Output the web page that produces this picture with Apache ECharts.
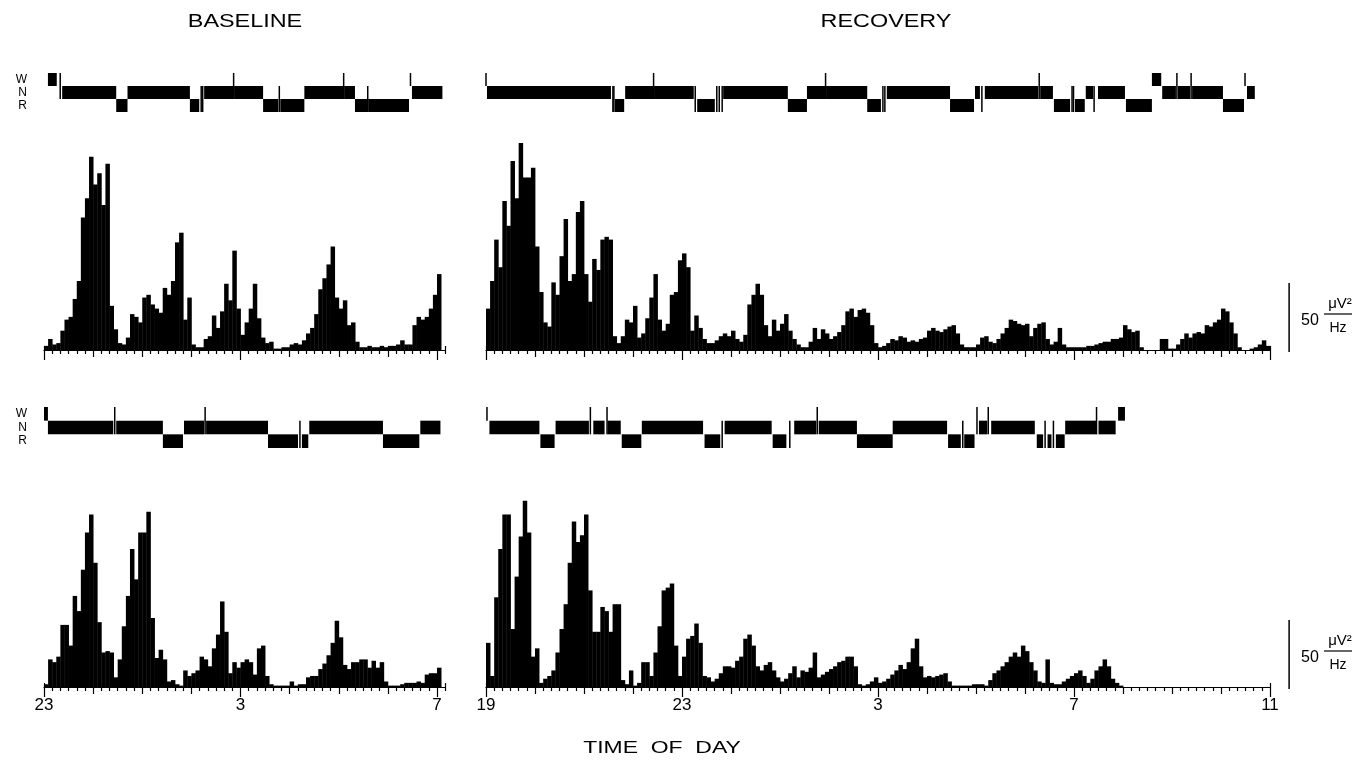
<!DOCTYPE html>
<html><head><meta charset="utf-8">
<script src="https://cdn.jsdelivr.net/npm/echarts@6/dist/echarts.min.js"></script>
<style>html,body{margin:0;padding:0;background:#fff}#c{width:1363px;height:765px}</style>
</head><body><div id="c"></div>
<script>
// ---------- DATA ----------
const BIN_HOURS = 5 / 60; // slow-wave activity binned in 5-minute steps
const stageNames = ['R', 'N', 'W'];
const baselineTickLabels = ['23', '3', '7'];
const recoveryTickLabels = ['19', '23', '3', '7', '11'];
const SCALE_BAR = 50;

const baselineTopSWA = [3,8,4,5,14,22,24,37,50,96,
 110,140,120,128,105,135,32,15,5,4,
 9,26,24,20,38,40,33,30,27,45,
 40,50,78,85,22,38,4,2,2,8,
 10,25,16,28,48,36,72,30,11,20,
 30,48,23,9,5,6,1,1,2,2,
 4,5,4,7,12,16,26,44,52,62,
 75,38,30,36,18,20,6,2,2,3,
 2,2,3,2,3,3,4,7,4,4,
 18,24,22,24,30,40,55];

const recoveryTopSWA = [30,50,80,60,108,90,137,110,150,125,
 125,132,75,42,20,17,49,40,68,95,
 50,55,100,108,55,35,66,58,80,82,
 80,10,5,10,22,20,32,9,12,23,
 38,55,22,14,19,40,42,65,70,60,
 14,25,16,8,5,5,7,10,12,10,
 14,8,6,11,33,40,48,40,18,10,
 22,14,19,26,14,8,4,2,2,6,
 16,8,15,12,8,10,13,18,28,30,
 24,29,30,27,18,5,2,3,5,8,
 7,10,9,6,7,6,8,9,14,16,
 14,13,15,17,18,12,4,2,2,2,
 4,9,10,6,5,8,12,16,22,21,
 19,18,19,10,16,19,20,8,4,6,
 16,4,2,2,2,2,2,3,3,4,
 5,6,6,8,8,9,18,15,13,14,
 2,0,0,0,0,8,8,1,1,4,
 8,12,9,12,13,12,18,17,20,22,
 30,28,20,12,2,0,0,1,2,4,
 7,3];

const baselineBottomSWA = [2,20,18,22,45,45,30,66,55,85,
 112,125,90,47,25,26,25,7,20,44,
 66,100,78,112,112,127,50,21,27,20,
 4,5,2,1,12,8,10,12,22,20,
 15,28,38,62,40,10,18,14,18,20,
 18,9,28,30,8,2,1,1,1,1,
 4,1,2,2,7,8,8,13,17,23,
 32,48,36,16,13,18,18,20,20,14,
 19,14,18,4,1,1,1,2,3,3,
 3,4,3,9,10,10,14];

const recoveryBottomSWA = [32,8,65,100,125,125,42,80,109,135,
 112,22,28,3,6,8,12,25,42,60,
 90,120,105,110,125,70,40,40,58,55,
 40,60,60,5,2,12,1,3,18,18,
 8,25,44,70,72,75,30,8,22,35,
 37,46,32,8,7,4,6,10,15,15,
 14,19,22,35,38,30,15,12,16,18,
 12,7,4,6,10,15,7,12,11,14,
 25,7,9,11,13,15,18,19,22,22,
 15,2,1,2,4,7,3,4,6,9,
 12,16,13,18,28,35,15,7,8,7,
 8,9,10,4,1,1,1,1,1,2,
 2,2,1,5,10,12,15,18,22,25,
 22,30,26,18,12,4,3,20,3,2,
 2,4,6,8,10,12,8,3,
 6,12,15,20,15,6,3,1];

// hypnogram episodes: [start h, end h, stage]
const baselineTopHypno = [[0.08,0.26,'W'],[0.37,1.47,'N'],[1.47,1.70,'R'],[1.70,2.97,'N'],[2.97,3.16,'R'],
 [3.26,3.85,'N'],[3.87,4.46,'N'],[4.46,4.77,'R'],[4.81,5.30,'R'],[5.30,6.09,'N'],[6.11,6.33,'N'],
 [6.33,6.58,'R'],[6.60,7.43,'R'],[7.49,8.11,'N']];
// brief transitions: [time h, upper stage, lower stage]
const baselineTopMarks = [[0.33,'W','N'],[3.20,'N','R'],[3.23,'N','R'],[3.86,'W','N'],[4.79,'N','R'],
 [6.10,'W','N'],[6.59,'N','R'],[7.46,'W','W']];

const recoveryTopHypno = [[0.02,2.55,'N'],[2.63,2.82,'R'],[2.84,3.41,'N'],[3.43,4.24,'N'],[4.31,4.67,'R'],
 [4.84,6.16,'N'],[6.16,6.55,'R'],[6.55,6.92,'N'],[6.94,7.78,'N'],[7.78,8.06,'R'],[8.18,9.47,'N'],
 [9.47,9.96,'R'],[9.98,10.08,'N'],[10.18,11.27,'N'],[11.31,11.57,'N'],[11.59,11.92,'R'],[12.02,12.22,'R'],
 [12.24,12.39,'N'],[12.49,13.04,'N'],[13.06,13.59,'R'],[13.59,13.78,'W'],[13.80,14.08,'N'],[14.12,14.37,'N'],
 [14.41,15.04,'N'],[15.04,15.47,'R'],[15.53,15.69,'N']];
const recoveryTopMarks = [[0.0,'W','W'],[2.59,'N','R'],[2.61,'N','R'],[3.42,'W','N'],[4.27,'N','R'],
 [4.71,'N','R'],[4.76,'N','R'],[4.82,'N','R'],[6.93,'W','N'],[8.10,'N','R'],[8.14,'N','R'],[10.12,'N','R'],
 [11.29,'W','N'],[11.96,'N','R'],[11.99,'N','R'],[12.41,'N','R'],[14.10,'W','N'],[14.39,'W','N'],[15.49,'W','W']];

const baselineBottomHypno = [[0.0,0.08,'W'],[0.08,1.41,'N'],[1.47,2.42,'N'],[2.42,2.83,'R'],[2.85,3.26,'N'],
 [3.30,4.56,'N'],[4.56,5.17,'R'],[5.25,5.38,'R'],[5.40,6.90,'N'],[6.90,7.64,'R'],[7.66,8.07,'N']];
const baselineBottomMarks = [[1.44,'W','N'],[3.28,'W','N'],[5.21,'N','R']];

const recoveryBottomHypno = [[0.07,1.09,'N'],[1.11,1.40,'R'],[1.42,2.10,'N'],[2.19,2.42,'N'],[2.48,2.75,'N'],
 [2.77,3.17,'R'],[3.18,4.43,'N'],[4.46,4.78,'R'],[4.87,5.83,'N'],[5.85,6.13,'R'],[6.29,6.74,'N'],[6.79,7.57,'N'],
 [7.57,8.30,'R'],[8.30,9.41,'N'],[9.43,9.69,'R'],[9.76,9.97,'R'],[10.06,10.23,'N'],[10.31,11.20,'N'],
 [11.24,11.37,'R'],[11.46,11.54,'R'],[11.63,11.81,'R'],[11.82,12.46,'N'],[12.50,12.85,'N'],[12.90,13.04,'W']];
const recoveryBottomMarks = [[0.02,'W','W'],[2.13,'W','N'],[2.47,'W','N'],[4.82,'N','R'],[6.20,'N','R'],
 [6.76,'W','N'],[9.73,'N','R'],[10.02,'W','N'],[10.25,'W','N'],[11.41,'N','R'],[11.58,'N','R'],[12.46,'W','N']];

// ---------- LAYOUT ----------
const FONT = 'Liberation Sans, DejaVu Sans, sans-serif';
const UNIT_PX = 1.38; // px per uV^2/Hz
const cols = {
  base: { left: 44, max: 49 / 6, pph: 49.125, labels: baselineTickLabels },
  rec:  { left: 486, max: 16, pph: 49.0, labels: recoveryTickLabels }
};
const rows = [
  { hypTop: 73, hypH: 39, axisY: 350, yMax: 170 },
  { hypTop: 407, hypH: 41, axisY: 687, yMax: 150 }
];
const panels = [
  { col: 'base', row: 0, swa: baselineTopSWA, hyp: baselineTopHypno, marks: baselineTopMarks, stageLabels: true, tickLabels: false },
  { col: 'rec', row: 0, swa: recoveryTopSWA, hyp: recoveryTopHypno, marks: recoveryTopMarks, stageLabels: false, tickLabels: false, scaleBar: true },
  { col: 'base', row: 1, swa: baselineBottomSWA, hyp: baselineBottomHypno, marks: baselineBottomMarks, stageLabels: true, tickLabels: true },
  { col: 'rec', row: 1, swa: recoveryBottomSWA, hyp: recoveryBottomHypno, marks: recoveryBottomMarks, stageLabels: false, tickLabels: true, scaleBar: true }
];

const grid = [], xAxis = [], yAxis = [], series = [];
const lvl = s => stageNames.indexOf(s);

function blockItem(params, api) {
  const l = api.value(2);
  const p0 = api.coord([api.value(0), l + 1]);
  const p1 = api.coord([api.value(1), l]);
  return { type: 'rect', shape: { x: p0[0], y: p0[1], width: Math.max(p1[0] - p0[0], 1.2), height: p1[1] - p0[1] }, style: { fill: '#000' } };
}
function markItem(params, api) {
  const p0 = api.coord([api.value(0), api.value(1)]);
  const p1 = api.coord([api.value(0), api.value(2)]);
  return { type: 'line', shape: { x1: p0[0], y1: p0[1], x2: p1[0], y2: p1[1] }, style: { stroke: '#000', lineWidth: 1.5 } };
}
function barItem(params, api) {
  const p0 = api.coord([api.value(0), api.value(2)]);
  const p1 = api.coord([api.value(1), 0]);
  return { type: 'rect', shape: { x: p0[0], y: p0[1], width: p1[0] - p0[0] + 0.4, height: p1[1] - p0[1] }, style: { fill: '#000' } };
}
function scaleItem(params, api) {
  const p0 = api.coord([api.value(0), api.value(1)]);
  const p1 = api.coord([api.value(0), api.value(2)]);
  return { type: 'line', shape: { x1: p0[0], y1: p0[1], x2: p1[0], y2: p1[1] }, style: { stroke: '#000', lineWidth: 1.5 } };
}

const hidden = { axisLine: { show: false }, axisTick: { show: false }, axisLabel: { show: false }, splitLine: { show: false } };

panels.forEach(p => {
  const c = cols[p.col], r = rows[p.row];
  const width = c.max * c.pph;
  // hypnogram grid
  const gH = grid.length;
  grid.push({ left: c.left, top: r.hypTop, width: width, height: r.hypH, containLabel: false, outerBoundsMode: 'none' });
  const xH = xAxis.length;
  xAxis.push(Object.assign({ type: 'value', gridIndex: gH, min: 0, max: c.max }, hidden));
  const yH = yAxis.length;
  yAxis.push({
    type: 'value', gridIndex: gH, min: 0, max: 3,
    axisLine: { show: false }, axisTick: { show: false }, splitLine: { show: false },
    axisLabel: {
      show: p.stageLabels, customValues: [0.5, 1.5, 2.5], margin: 17,
      fontSize: 12, fontFamily: FONT, color: '#000',
      formatter: v => stageNames[Math.floor(v)]
    }
  });
  series.push({
    type: 'custom', xAxisIndex: xH, yAxisIndex: yH, clip: false, silent: true,
    renderItem: blockItem, encode: { x: [0, 1], y: 2 },
    data: p.hyp.map(d => [d[0], d[1], lvl(d[2])])
  });
  series.push({
    type: 'custom', xAxisIndex: xH, yAxisIndex: yH, clip: false, silent: true,
    renderItem: markItem, encode: { x: 0, y: [1, 2] },
    data: p.marks.map(d => [d[0], lvl(d[1]) + 1, lvl(d[2])])
  });

  // slow-wave activity grid
  const gB = grid.length;
  const h = r.yMax * UNIT_PX;
  grid.push({ left: c.left, top: r.axisY - h, width: width, height: h, containLabel: false, outerBoundsMode: 'none' });
  const yB = yAxis.length;
  yAxis.push(Object.assign({ type: 'value', gridIndex: gB, min: 0, max: r.yMax }, hidden));

  const nTen = Math.round(c.max * 6);
  const tenMin = [], hours = [], fours = [];
  for (let i = 0; i <= nTen; i++) if (i % 6 !== 0) tenMin.push(i / 6);
  for (let i = 0; i <= Math.floor(c.max); i++) { if (i % 4 === 0) fours.push(i); else hours.push(i); }
  const baseAx = { type: 'value', gridIndex: gB, min: 0, max: c.max, position: 'bottom', splitLine: { show: false } };
  const xB = xAxis.length;
  xAxis.push(Object.assign({}, baseAx, {
    axisLine: { show: true, onZero: false, lineStyle: { color: '#000', width: 1.2 } },
    axisTick: { show: true, customValues: tenMin, length: 4, lineStyle: { color: '#000', width: 1.2 } },
    axisLabel: { show: false, customValues: tenMin }
  }));
  xAxis.push(Object.assign({}, baseAx, {
    axisLine: { show: false, onZero: false },
    axisTick: { show: true, customValues: hours, length: 7, lineStyle: { color: '#000', width: 1.2 } },
    axisLabel: { show: false, customValues: hours }
  }));
  xAxis.push(Object.assign({}, baseAx, {
    axisLine: { show: false, onZero: false },
    axisTick: { show: true, customValues: fours, length: 10, lineStyle: { color: '#000', width: 1.2 } },
    axisLabel: {
      show: p.tickLabels, customValues: fours, margin: 10, fontSize: 17, fontFamily: FONT, color: '#000',
      formatter: v => c.labels[Math.round(v / 4)]
    }
  }));
  xAxis.push(Object.assign({}, baseAx, {
    axisLine: { show: false, onZero: false },
    axisTick: { show: true, inside: true, customValues: [0, c.max], length: 4, lineStyle: { color: '#000', width: 1.2 } },
    axisLabel: { show: false, customValues: [0, c.max] }
  }));
  series.push({
    type: 'custom', xAxisIndex: xB, yAxisIndex: yB, clip: false, silent: true,
    renderItem: barItem, encode: { x: [0, 1], y: 2 },
    data: p.swa.map((v, i) => [i * BIN_HOURS, (i + 1) * BIN_HOURS, v])
  });
  if (p.scaleBar) {
    series.push({
      type: 'custom', xAxisIndex: xB, yAxisIndex: yB, clip: false, silent: true,
      renderItem: scaleItem, encode: { x: 0, y: [1, 2] },
      data: [[16.39, -1.5, SCALE_BAR - 1.5]]
    });
  }
});

function unitLabel(dy) {
  return [
    { type: 'text', x: 1310, y: 321 + dy, style: { text: '50', fontSize: 16, fontFamily: FONT, fill: '#000', align: 'center', verticalAlign: 'middle' } },
    { type: 'text', x: 1340, y: 304 + dy, style: { text: 'μV²', fontSize: 15, fontFamily: FONT, fill: '#000', align: 'center', verticalAlign: 'middle' } },
    { type: 'line', shape: { x1: 1324, y1: 314 + dy, x2: 1352, y2: 314 + dy }, style: { stroke: '#000', lineWidth: 1.2 } },
    { type: 'text', x: 1338, y: 328 + dy, style: { text: 'Hz', fontSize: 14, fontFamily: FONT, fill: '#000', align: 'center', verticalAlign: 'middle' } }
  ];
}

const graphic = [
  { type: 'text', x: 245, y: 22, scaleX: 1.3, style: { text: 'BASELINE', fontSize: 18, fontFamily: FONT, fill: '#000', align: 'center', verticalAlign: 'middle' } },
  { type: 'text', x: 886, y: 22, scaleX: 1.3, style: { text: 'RECOVERY', fontSize: 18, fontFamily: FONT, fill: '#000', align: 'center', verticalAlign: 'middle' } },
  { type: 'text', x: 662, y: 748, scaleX: 1.35, style: { text: 'TIME  OF  DAY', fontSize: 17, fontFamily: FONT, fill: '#000', align: 'center', verticalAlign: 'middle' } }
].concat(unitLabel(0), unitLabel(337));

const chart = echarts.init(document.getElementById('c'));
chart.setOption({
  backgroundColor: '#fff',
  animation: false,
  grid, xAxis, yAxis, series, graphic
});
</script>
</body></html>
